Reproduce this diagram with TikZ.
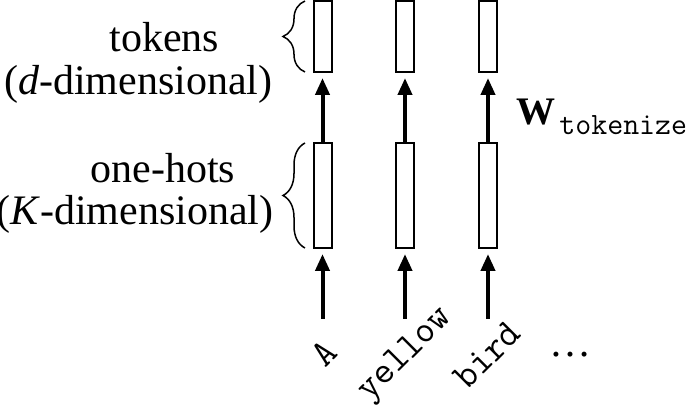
\documentclass[tikz,border=0pt]{standalone}
\usepackage{fontspec}
\setmainfont{Liberation Serif}
\usetikzlibrary{arrows.meta,decorations.pathreplacing}
\begin{document}
\begin{tikzpicture}[x=0.5pt,y=-0.5pt,
  vec/.style={draw, line width=1pt, minimum width=9pt, inner sep=0pt},
  arr/.style={line width=2pt, -{Triangle[length=8.5pt,width=7pt]}},
  brc/.style={decorate, decoration={brace, amplitude=11pt}, line width=0.75pt},
  lbl/.style={font=\fontsize{21}{25}\selectfont, anchor=base, inner sep=0pt},
  word/.style={font=\fontsize{19}{22}\selectfont\ttfamily, rotate=45, inner sep=0pt}]
\useasboundingbox (0,0) rectangle (687,406);
% token vectors
\node[vec, minimum height=35.5pt] (t1) at (322.5,36.5) {};
\node[vec, minimum height=35.5pt] (t2) at (405,36.5) {};
\node[vec, minimum height=35.5pt] (t3) at (488,36.5) {};
% one-hot vectors
\node[vec, minimum height=52.5pt] (o1) at (322.5,195.5) {};
\node[vec, minimum height=52.5pt] (o2) at (405,195.5) {};
\node[vec, minimum height=52.5pt] (o3) at (488,195.5) {};
% arrows one-hot -> token
\draw[arr, shorten >=2.5pt] (o1.north) -- (t1.south);
\draw[arr, shorten >=2.5pt] (o2.north) -- (t2.south);
\draw[arr, shorten >=2.5pt] (o3.north) -- (t3.south);
% input words
\coordinate (s1) at (322.5,319);
\coordinate (s2) at (405,319);
\coordinate (s3) at (488,319);
\draw[arr, shorten >=2.5pt] (s1) -- (o1.south);
\draw[arr, shorten >=2.5pt] (s2) -- (o2.south);
\draw[arr, shorten >=2.5pt] (s3) -- (o3.south);
\node[word] (w1) at (324,353) {A};
\node[word] (w2) at (406,355) {yellow};
\node[word] (w3) at (487,355) {bird};
\node[lbl] (dots) at (570,357) {\ldots};
% braces
\draw[brc] (305,72) -- (305,1);
\draw[brc] (305,248) -- (305,143);
% left labels
\node[lbl] (tok) at (164.5,52) {tokens};
\node[lbl, anchor=base east] (tokd) at (273,95) {(\textit{d}-dimensional)};
\node[lbl] (oh) at (163,183) {one-hots};
\node[lbl, anchor=base east] (ohd) at (274,225) {(\textit{K}-dimensional)};
% weight label
\node[anchor=base west, inner sep=0pt] (W) at (516,125)
  {\fontsize{19.5}{22}\selectfont\bfseries W\kern2pt\raisebox{-5pt}{\fontsize{15.5}{18}\selectfont\mdseries\ttfamily tokenize}};
\end{tikzpicture}
\end{document}
